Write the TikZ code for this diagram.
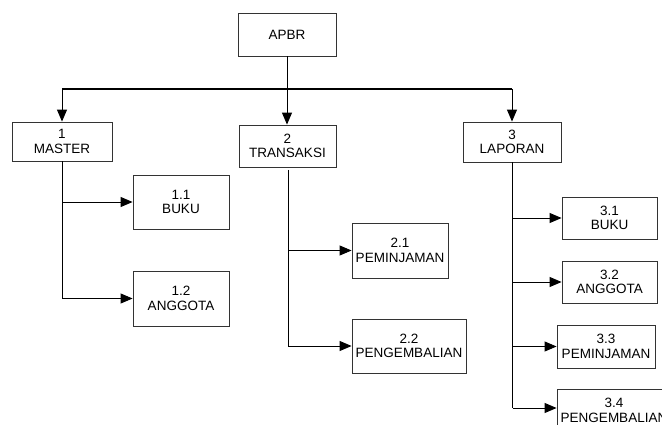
\documentclass[tikz,border=0pt]{standalone}
\usepackage{fontspec}
\setmainfont{Liberation Sans}
\usetikzlibrary{arrows.meta,calc}
\begin{document}
\begin{tikzpicture}[x=1pt,y=-1pt,
  box/.style={draw=black!80,line width=0.8pt,inner sep=0pt,align=center,
    font=\fontsize{13.5}{14.5}\selectfont},
  conn/.style={line width=0.9pt,-{Triangle[length=12pt,width=10pt]}},
  plain/.style={line width=0.9pt}]
\useasboundingbox (0,0) rectangle (662,425);
\begin{scope}
\clip (0,0) rectangle (662,425);
\node[box,minimum width=98pt,minimum height=43pt] (apbr) at (287,34.5) {APBR};
\node[box,minimum width=100pt,minimum height=39pt] (master) at (62,141.5) {1\\MASTER};
\node[box,minimum width=97pt,minimum height=42pt] (trans) at (287.5,146) {2\\TRANSAKSI};
\node[box,minimum width=98pt,minimum height=40pt] (lap) at (512,142) {3\\LAPORAN};
\node[box,minimum width=96pt,minimum height=54pt] (m1) at (181,202) {1.1\\BUKU};
\node[box,minimum width=96pt,minimum height=55pt] (m2) at (181,298.5) {1.2\\ANGGOTA};
\node[box,minimum width=96pt,minimum height=55pt] (t1) at (400,250.5) {2.1\\PEMINJAMAN};
\node[box,minimum width=114pt,minimum height=54pt] (t2) at (409,346) {2.2\\PENGEMBALIAN};
\node[box,minimum width=95pt,minimum height=42pt] (l1) at (609.5,218) {3.1\\BUKU};
\node[box,minimum width=95pt,minimum height=42pt] (l2) at (609.5,282) {3.2\\ANGGOTA};
\node[box,minimum width=98pt,minimum height=43pt] (l3) at (606,346.5) {3.3\\PEMINJAMAN};
\node[box,minimum width=114pt,minimum height=43pt] (l4) at (614,410.5) {3.4\\PENGEMBALIAN};
% top level
\coordinate (barL) at (62,89);
\coordinate (barR) at (512,89);
\draw[line width=2pt] (barL) -- (barR);
\draw[conn] (apbr.south) -- (apbr.south |- trans.north);
\draw[conn] (barL) -- (barL |- master.north);
\draw[conn] (barR) -- (barR |- lap.north);
% master branch
\coordinate (mtop) at (62,161);
\coordinate (mbot) at (62,298.5);
\draw[plain] (master.south) -- (mbot);
\draw[conn] (master.south |- m1.west) -- (m1.west);
\draw[conn] (mbot) -- (m2.west);
% transaksi branch
\coordinate (ttop) at (288,170);
\coordinate (tbot) at (288,346);
\draw[plain] (ttop) -- (tbot);
\draw[conn] (ttop |- t1.west) -- (t1.west);
\draw[conn] (tbot) -- (t2.west);
% laporan branch
\coordinate (lbot) at (512.5,408);
\draw[plain] (lap.south -| lbot) -- (lbot);
\draw[conn] (lbot |- l1.west) -- (l1.west);
\draw[conn] (lbot |- l2.west) -- (l2.west);
\draw[conn] (lbot |- l3.west) -- (l3.west);
\draw[conn] (lbot) -- (lbot -| l4.west);
\end{scope}
\end{tikzpicture}
\end{document}
